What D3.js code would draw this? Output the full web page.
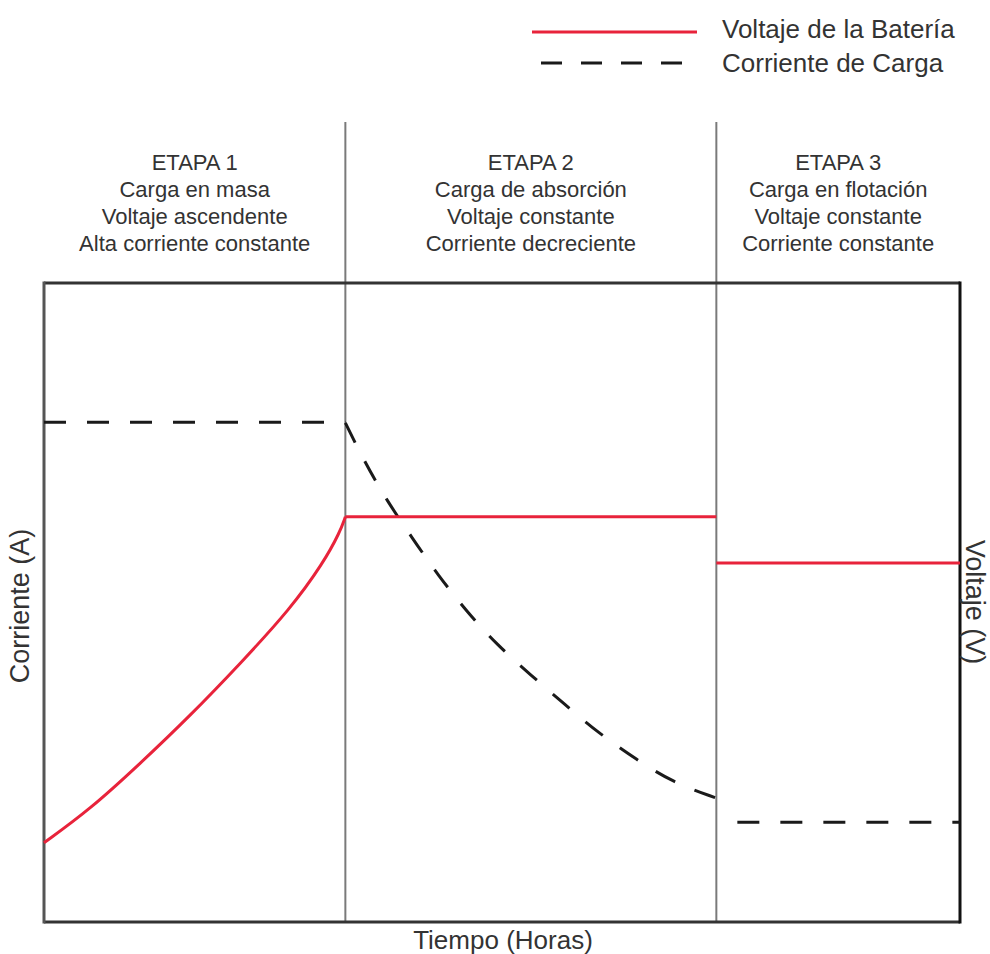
<!DOCTYPE html>
<html>
<head>
<meta charset="utf-8">
<script src="https://cdn.jsdelivr.net/npm/d3@7"></script>
<style>
  html, body { margin: 0; padding: 0; background: #fff; }
  text { font-family: "Liberation Sans", Arial, sans-serif; fill: #333; }
</style>
</head>
<body>
<svg id="chart" width="990" height="954"></svg>
<script>
// ---- data ----
const stageBounds = [0, 3.29, 7.34, 10]; // hours (schematic)
const stageTitles = ["ETAPA 1", "ETAPA 2", "ETAPA 3"];
const stageLine2 = ["Carga en masa", "Carga de absorción", "Carga en flotación"];
const stageLine3 = ["Voltaje ascendente", "Voltaje constante", "Voltaje constante"];
const stageLine4 = ["Alta corriente constante", "Corriente decreciente", "Corriente constante"];

// Battery voltage (right axis, relative units)
const voltStage1T = [0, 0.50, 1.05, 1.59, 2.14, 2.69, 3.05, 3.23, 3.29];
const voltStage1V = [1.24, 1.76, 2.48, 3.22, 4.04, 4.90, 5.62, 6.10, 6.34];
const voltStage2T = [3.29, 7.34];
const voltStage2V = [6.34, 6.34];
const voltStage3T = [7.34, 10];
const voltStage3V = [5.62, 5.62];

// Charging current (left axis, relative units)
const currStage1T = [0, 3.29];
const currStage1I = [7.82, 7.82];
const currStage2T = [3.29, 3.50, 3.74, 4.02, 4.30, 4.62, 4.95, 5.31, 5.69, 6.05, 6.47, 6.87, 7.34];
const currStage2I = [7.81, 7.20, 6.60, 6.01, 5.43, 4.85, 4.33, 3.87, 3.40, 2.96, 2.54, 2.18, 1.94];
const currStage3T = [7.34, 10];
const currStage3I = [1.56, 1.56];

const legendLabels = ["Voltaje de la Batería", "Corriente de Carga"];
const xLabel = "Tiempo (Horas)";
const yLeftLabel = "Corriente (A)";
const yRightLabel = "Voltaje (V)";

// ---- layout ----
const svg = d3.select("#chart");
const plot = { left: 44, right: 960, top: 283, bottom: 922 };
const x = d3.scaleLinear().domain([0, 10]).range([plot.left, plot.right]);
const yI = d3.scaleLinear().domain([0, 10]).range([plot.bottom, plot.top]);
const yV = d3.scaleLinear().domain([0, 10]).range([plot.bottom, plot.top]);

const red = "#e8233b";
const dash = "#1a1a1a";

// stage dividers
svg.selectAll("line.divider")
  .data(stageBounds.slice(1, 3))
  .join("line")
  .attr("class", "divider")
  .attr("x1", d => x(d)).attr("x2", d => x(d))
  .attr("y1", 122).attr("y2", plot.bottom)
  .attr("stroke", "#7a7a7a").attr("stroke-width", 2);

// frame
svg.append("line").attr("x1", plot.left).attr("x2", plot.right).attr("y1", plot.top).attr("y2", plot.top)
  .attr("stroke", "#333").attr("stroke-width", 3);
svg.append("line").attr("x1", plot.left).attr("x2", plot.right).attr("y1", plot.bottom).attr("y2", plot.bottom)
  .attr("stroke", "#333").attr("stroke-width", 3);
svg.append("line").attr("x1", plot.left).attr("x2", plot.left).attr("y1", plot.top - 1.5).attr("y2", plot.bottom + 1.5)
  .attr("stroke", "#555").attr("stroke-width", 3);
svg.append("line").attr("x1", plot.right).attr("x2", plot.right).attr("y1", plot.top - 1.5).attr("y2", plot.bottom + 1.5)
  .attr("stroke", "#111").attr("stroke-width", 3);

// stage texts
const stageText = svg.selectAll("g.stage")
  .data(d3.range(3))
  .join("g")
  .attr("class", "stage");
const lines = [stageTitles, stageLine2, stageLine3, stageLine4];
lines.forEach((arr, li) => {
  stageText.append("text")
    .attr("x", i => (x(stageBounds[i]) + x(stageBounds[i + 1])) / 2)
    .attr("y", 170 + li * 27)
    .attr("text-anchor", "middle")
    .attr("font-size", 22)
    .text(i => arr[i]);
});

// line generators
const zip = (a, b) => a.map((t, i) => [t, b[i]]);
const lineV = d3.line().x(d => x(d[0])).y(d => yV(d[1])).curve(d3.curveBasis);
const lineI = d3.line().x(d => x(d[0])).y(d => yI(d[1])).curve(d3.curveBasis);

// current (dashed)
const currentSegs = [
  { pts: zip(currStage1T, currStage1I), off: 0 },
  { pts: zip(currStage2T, currStage2I), off: 0 },
  { pts: zip(currStage3T, currStage3I), off: 22 }
];
svg.selectAll("path.current")
  .data(currentSegs)
  .join("path")
  .attr("class", "current")
  .attr("d", d => lineI(d.pts))
  .attr("fill", "none")
  .attr("stroke", dash)
  .attr("stroke-width", 3)
  .attr("stroke-dasharray", "22,21")
  .attr("stroke-dashoffset", d => d.off);

// voltage (red)
const voltSegs = [zip(voltStage1T, voltStage1V), zip(voltStage2T, voltStage2V), zip(voltStage3T, voltStage3V)];
svg.selectAll("path.volt")
  .data(voltSegs)
  .join("path")
  .attr("class", "volt")
  .attr("d", d => lineV(d))
  .attr("fill", "none")
  .attr("stroke", red)
  .attr("stroke-width", 3);

// axis labels
svg.append("text").attr("x", (plot.left + plot.right) / 2 + 1).attr("y", 949)
  .attr("text-anchor", "middle").attr("font-size", 26).text(xLabel);
svg.append("text")
  .attr("transform", `translate(29, ${606}) rotate(-90)`)
  .attr("text-anchor", "middle").attr("font-size", 27).text(yLeftLabel);
svg.append("text")
  .attr("transform", `translate(966, ${602}) rotate(90)`)
  .attr("text-anchor", "middle").attr("font-size", 27).text(yRightLabel);

// legend
const legend = svg.append("g");
legend.append("line").attr("x1", 532).attr("x2", 697).attr("y1", 32).attr("y2", 32)
  .attr("stroke", red).attr("stroke-width", 3);
legend.append("line").attr("x1", 530).attr("x2", 700).attr("y1", 63).attr("y2", 63)
  .attr("stroke", dash).attr("stroke-width", 3)
  .attr("stroke-dasharray", "21,19").attr("stroke-dashoffset", 29);
legend.selectAll("text")
  .data(legendLabels)
  .join("text")
  .attr("x", 722)
  .attr("y", (d, i) => 38 + i * 34)
  .attr("font-size", 26)
  .text(d => d);
</script>
</body>
</html>
